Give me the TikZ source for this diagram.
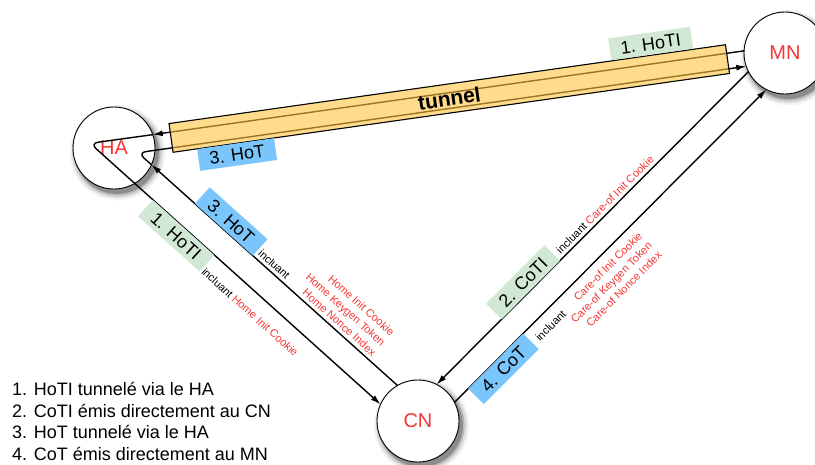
\documentclass[tikz,border=0pt]{standalone}
\usepackage{fontspec}
\setmainfont{Liberation Sans}
\usepackage{xcolor}
\usetikzlibrary{arrows.meta, calc, shadows}

\definecolor{hagreen}{RGB}{209,232,213}
\definecolor{hablue}{RGB}{122,198,252}
\definecolor{hared}{RGB}{245,55,55}
\definecolor{tunnelfill}{RGB}{255,195,63}

\tikzset{
  agent/.style={circle, draw, line width=0.9pt, fill=white, minimum size=82pt, inner sep=0pt, outer sep=0pt,
    text=hared, font=\fontsize{20}{24}\selectfont,
    drop shadow={shadow xshift=3pt, shadow yshift=-4pt, shadow scale=1.16, fill=black!5, opacity=1},
    drop shadow={shadow xshift=3pt, shadow yshift=-4pt, shadow scale=1.11, fill=black!14, opacity=1},
    drop shadow={shadow xshift=3pt, shadow yshift=-4pt, shadow scale=1.06, fill=black!28, opacity=1},
    drop shadow={shadow xshift=3pt, shadow yshift=-4pt, shadow scale=1.02, fill=black!45, opacity=1}},
  msg/.style={line width=1.4pt, -{Latex[length=10pt, width=6pt]}},
  msglbl/.style={inner xsep=11pt, inner ysep=4.5pt, text height=13pt, text depth=0pt, font=\fontsize{18}{22}\selectfont},
  initlbl/.style={msglbl, fill=hagreen},
  replylbl/.style={msglbl, fill=hablue},
  incl/.style={inner sep=0pt, font=\fontsize{11}{13.7}\selectfont},
  cookies/.style={incl, text=hared, align=right},
  tunnelbox/.style={draw, line width=1.1pt, fill=tunnelfill, fill opacity=0.6, text opacity=1,
    minimum width=562pt, minimum height=29pt, inner sep=0pt, font=\fontsize{21}{25}\selectfont\bfseries},
  legend/.style={inner sep=0pt, anchor=base west, font=\fontsize{18}{22}\selectfont}
}

\begin{document}
\begin{tikzpicture}[x=1pt, y=1pt]
\useasboundingbox (0, 0) rectangle (815, -464);
\node[agent] at (114, -148) (HA) {HA};
\node[agent] at (785, -53) (MN) {MN};
\node[agent] at (418, -421) (CN) {CN};
\coordinate (hoti-turn) at ($(HA) + (-23.9, 4.7)$);
\coordinate (hot-turn) at ($(HA) + (23.9, -4.7)$);
\draw[msg] (MN.177) -- (HA.19);
\draw[msg, rounded corners=8pt] (HA.19) -- (hoti-turn) -- (CN.156);
\draw[msg] (CN.120) -- (HA.-24);
\draw[msg, rounded corners=8pt] (HA.-24) -- (hot-turn) -- (MN.199);
\draw[msg] (MN.207) -- (CN.63);
\draw[msg] (CN.27) -- (MN.243);
\begin{scope}[shift={(HA)}, rotate=8.06, transform shape]
\node[tunnelbox] at (338.9, 2) (tunnel) {tunnel};
\node[initlbl, anchor=south] at (546, 17) (hoti-top) {1. HoTI};
\node[replylbl, anchor=north] at (121, -12.5) (hot-bottom) {3. HoT};
\end{scope}
\begin{scope}[shift={(HA)}, rotate=-41.92, transform shape]
\node[initlbl, anchor=north] at (104.9, -12.5) (hoti-diag) {1. HoTI};
\node[incl, anchor=west] at (147.9, -31.1) (hoti-incl) {incluant \textcolor{hared}{Home Init Cookie}};
\node[replylbl, anchor=south] at (136.3, 12.5) (hot-diag) {3. HoT};
\node[incl] at (197, 20.5) (hot-incl) {incluant};
\node[cookies, anchor=east] at (331.6, 34.5) (hot-cookies) {Home Init Cookie\\Home Keygen Token\\Home Nonce Index};
\end{scope}
\begin{scope}[shift={(CN)}, rotate=45.08, transform shape]
\node[initlbl, anchor=south] at (172.4, 12.5) (coti-diag) {2. CoTI};
\node[incl, anchor=west] at (218.9, 20.5) (coti-incl) {incluant \textcolor{hared}{Care-of Init Cookie}};
\node[replylbl, anchor=north] at (97.3, -12.5) (cot-diag) {4. CoT};
\node[incl] at (161.2, -26.7) (cot-incl) {incluant};
\node[cookies, anchor=east] at (289.6, -39) (cot-cookies) {Care-of Init Cookie\\Care-of Keygen Token\\Care-of Nonce Index};
\end{scope}
\foreach \i/\txt in {1/HoTI tunnelé via le HA, 2/CoTI émis directement au CN, 3/HoT tunnelé via le HA, 4/CoT émis directement au MN}{
\node[legend] at (12, {-395.5 - 21.6*(\i - 1)}) (leg\i) {\i. \txt};}
\end{tikzpicture}
\end{document}
